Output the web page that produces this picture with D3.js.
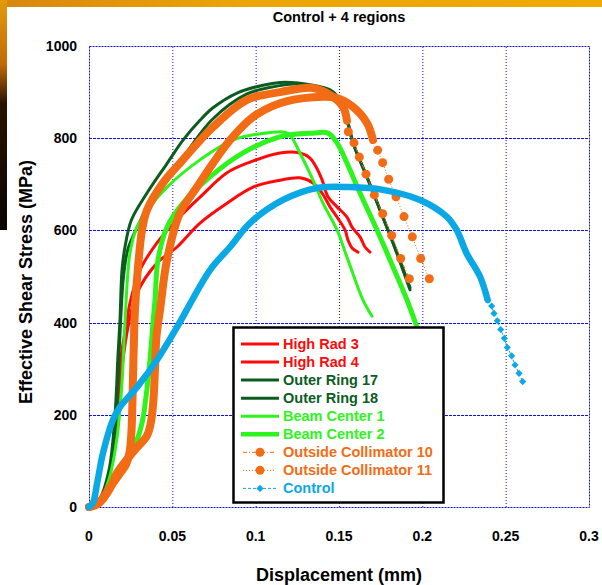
<!DOCTYPE html>
<html>
<head>
<meta charset="utf-8">
<script src="https://d3js.org/d3.v7.min.js"></script>
<style>
  body { margin: 0; background: #fff; }
  svg { display: block; font-family: "Liberation Sans", Arial, sans-serif; font-weight: bold; }
</style>
</head>
<body>
<svg></svg>
<script>

// values: [displacement (mm), stress (MPa)]
const highRad3 = [[0,0],[0.004,8],[0.009,35],[0.013,90],[0.0156,175],[0.0174,260],[0.0198,340],[0.0228,405],[0.0246,443],[0.0306,514],[0.0408,573],[0.0528,623],[0.0666,672],[0.0828,725],[0.0966,748],[0.1146,768],[0.1266,768],[0.1326,757],[0.1362,738],[0.1398,710],[0.1434,673],[0.1488,651],[0.1548,629],[0.1578,607],[0.1626,586],[0.1656,564],[0.1686,553]];
const highRad4 = [[0,0],[0.004,8],[0.009,30],[0.013,80],[0.0162,160],[0.018,240],[0.0204,320],[0.0234,390],[0.0288,464],[0.0408,529],[0.0528,564],[0.0666,616],[0.0828,659],[0.0984,694],[0.1146,709],[0.1266,714],[0.1344,703],[0.1398,681],[0.1446,651],[0.1488,629],[0.1536,601],[0.1554,579],[0.1578,562],[0.1614,553]];
const outerRing17 = [[0,0],[0.006,15],[0.012,80],[0.0156,200],[0.0174,330],[0.0186,406],[0.0198,514],[0.0216,564],[0.0255,623],[0.0348,681],[0.0468,745],[0.0564,796],[0.0666,839],[0.0744,866],[0.0888,898],[0.1044,915],[0.1146,921],[0.1254,920],[0.1344,915],[0.1446,905],[0.1506,883],[0.1548,839],[0.1584,790],[0.1668,716],[0.1746,644],[0.1824,573],[0.1926,471]];
const outerRing18 = [[0,0],[0.006,12],[0.012,70],[0.0162,200],[0.018,330],[0.0192,420],[0.0207,500],[0.0234,560],[0.03,615],[0.0408,690],[0.0546,750],[0.0738,840],[0.0948,896],[0.1146,914],[0.1254,918],[0.1344,912],[0.1446,900],[0.1512,877],[0.1554,833],[0.159,784],[0.1674,710],[0.1752,639],[0.183,568],[0.1926,476]];
const beamCenter1 = [[0,0],[0.006,12],[0.012,60],[0.0168,150],[0.0198,270],[0.0216,400],[0.0246,551],[0.0288,607],[0.0366,651],[0.0468,694],[0.0666,753],[0.0864,796],[0.1104,813],[0.1176,813],[0.1206,807],[0.1266,768],[0.1344,709],[0.1404,659],[0.1488,601],[0.1548,542],[0.1644,449],[0.1698,414]];
const beamCenter2 = [[0,0],[0.006,10],[0.012,45],[0.0162,75],[0.021,100],[0.027,130],[0.0318,182],[0.0342,239],[0.0366,319],[0.0384,400],[0.0396,449],[0.0414,536],[0.0468,607],[0.0564,659],[0.0726,716],[0.0924,768],[0.1146,803],[0.1344,811],[0.1434,811],[0.1488,790],[0.1548,746],[0.1626,681],[0.1728,601],[0.1806,536],[0.1908,449],[0.1968,390]];
const outside10 = [[0,0],[0.006,10],[0.0126,43],[0.0186,73],[0.0222,92],[0.0243,118],[0.0255,165],[0.0262,250],[0.0268,340],[0.0276,430],[0.0294,520],[0.0318,600],[0.0348,644],[0.0444,703],[0.0546,746],[0.0744,824],[0.0948,883],[0.1146,900],[0.1344,909],[0.1446,894],[0.1524,868],[0.1548,838]];
const outside10Tail = [[0.1556,814],[0.159,790],[0.1622,759],[0.1662,722],[0.1712,677],[0.1762,636],[0.1816,589],[0.187,539],[0.1922,495]];
const outside11 = [[0,0],[0.006,8],[0.0126,40],[0.0168,74],[0.0276,124],[0.0348,155],[0.0372,185],[0.0387,235],[0.0396,300],[0.0405,370],[0.0426,427],[0.0468,536],[0.0546,638],[0.0648,694],[0.0744,746],[0.0846,796],[0.0984,846],[0.1146,876],[0.1344,889],[0.1488,887],[0.1584,868],[0.1668,833],[0.1704,796]];
const outside11Tail = [[0.1732,774],[0.1762,747],[0.1798,711],[0.1842,673],[0.189,630],[0.194,586],[0.199,539],[0.2042,495]];
const control = [[0,0],[0.0024,9],[0.0048,50],[0.0084,117],[0.0144,189],[0.0186,217],[0.0288,260],[0.0408,319],[0.0528,390],[0.0726,514],[0.0846,564],[0.0966,616],[0.1164,666],[0.1368,692],[0.1566,694],[0.1764,688],[0.1986,666],[0.2146,630],[0.2206,601],[0.2266,550],[0.2346,500],[0.2392,449]];
const controlTail = [[0.2392,449],[0.2416,436],[0.243,420],[0.245,404],[0.247,385],[0.2492,366],[0.251,346],[0.2536,328],[0.2556,308],[0.258,290],[0.2602,272]];

const seriesNames = ["High Rad 3", "High Rad 4", "Outer Ring 17", "Outer Ring 18", "Beam Center 1", "Beam Center 2", "Outside Collimator 10", "Outside Collimator 11", "Control"];
const xTicks = [0, 0.05, 0.1, 0.15, 0.2, 0.25, 0.3];
const yTicks = [0, 200, 400, 600, 800, 1000];

let width = 602, height = 585;
let svg = d3.select("svg").attr("width", width).attr("height", height);

const red = "#ff0a0a", dkGreen = "#0c5c1f", ltGreen = "#2ef41e", orange = "#f26c15", blue = "#0ba8e6";

// styles of each series, in drawing order
let series = [
  {name: seriesNames[0], data: highRad3, color: red, w: 3},
  {name: seriesNames[1], data: highRad4, color: red, w: 3},
  {name: seriesNames[2], data: outerRing17, color: dkGreen, w: 3},
  {name: seriesNames[3], data: outerRing18, color: dkGreen, w: 3},
  {name: seriesNames[4], data: beamCenter1, color: ltGreen, w: 3},
  {name: seriesNames[5], data: beamCenter2, color: ltGreen, w: 5},
  {name: seriesNames[6], data: outside10, tail: outside10Tail, color: orange, w: 8, marker: "circle", dash: "4,2,1,2"},
  {name: seriesNames[7], data: outside11, tail: outside11Tail, color: orange, w: 8, marker: "circle", dash: "1,2"},
  {name: seriesNames[8], data: control, tail: controlTail, color: blue, w: 6.5, marker: "diamond", dash: "3,2"}
];

// slide background strips
let defs = svg.append("defs");
let tg = defs.append("linearGradient").attr("id", "topg");
tg.append("stop").attr("offset", "0%").attr("stop-color", "#d8860f");
tg.append("stop").attr("offset", "40%").attr("stop-color", "#eba507");
tg.append("stop").attr("offset", "100%").attr("stop-color", "#f0aa05");
let lg = defs.append("linearGradient").attr("id", "leftg").attr("x1", 0).attr("x2", 0).attr("y1", 0).attr("y2", 1);
lg.append("stop").attr("offset", "0%").attr("stop-color", "#e39a0c");
lg.append("stop").attr("offset", "28%").attr("stop-color", "#c06a08");
lg.append("stop").attr("offset", "45%").attr("stop-color", "#2a1200");
lg.append("stop").attr("offset", "100%").attr("stop-color", "#0a0400");
svg.append("rect").attr("x", 0).attr("y", 0).attr("width", width).attr("height", 7).attr("fill", "url(#topg)");
svg.append("rect").attr("x", 0).attr("y", 0).attr("width", 7).attr("height", 230).attr("fill", "url(#leftg)");

let x = d3.scaleLinear().domain([0, 0.3]).range([89, 589]);
let y = d3.scaleLinear().domain([0, 1000]).range([507, 46]);

// grid
let grid = svg.append("g").attr("stroke", "#1010e0").attr("stroke-width", 1);
grid.selectAll(".vx").data(xTicks.slice(1, -1)).join("line")
  .attr("x1", d => x(d) + 0.5).attr("x2", d => x(d) + 0.5)
  .attr("y1", y(0)).attr("y2", y(1000))
  .attr("stroke-dasharray", "1,2");
grid.selectAll(".hy").data(yTicks.slice(1, -1)).join("line")
  .attr("x1", x(0)).attr("x2", x(0.3))
  .attr("y1", d => Math.round(y(d)) + 0.5).attr("y2", d => Math.round(y(d)) + 0.5)
  .attr("stroke-dasharray", "3,1");
svg.append("rect")
  .attr("x", x(0) + 0.5).attr("y", y(1000) + 0.5)
  .attr("width", x(0.3) - x(0)).attr("height", y(0) - y(1000))
  .attr("fill", "none").attr("stroke", "#1010e0").attr("stroke-dasharray", "2,1");

// tick labels
svg.append("g").selectAll("text").data(xTicks).join("text")
  .attr("x", d => x(d)).attr("y", 541)
  .attr("text-anchor", "middle").style("font-size", "14px")
  .text(d => d);
svg.append("g").selectAll("text").data(yTicks).join("text")
  .attr("x", 77).attr("y", d => y(d) + 5)
  .attr("text-anchor", "end").style("font-size", "14px")
  .text(d => d);

// titles
svg.append("text").attr("x", 339).attr("y", 22).attr("text-anchor", "middle")
  .style("font-size", "14.5px").text("Control + 4 regions");
svg.append("text").attr("x", 339).attr("y", 581).attr("text-anchor", "middle")
  .style("font-size", "18px").text("Displacement (mm)");
svg.append("text").attr("transform", "translate(32,282) rotate(-90)").attr("text-anchor", "middle")
  .style("font-size", "18px").text("Effective Shear Stress (MPa)");

// lines
let line = d3.line().x(d => x(d[0])).y(d => y(d[1])).curve(d3.curveCatmullRom.alpha(0.5));
let thin = d3.line().x(d => x(d[0])).y(d => y(d[1]));

function marker(g, type, color, cx, cy) {
  if (type == "circle") {
    g.append("circle").attr("cx", cx).attr("cy", cy).attr("r", 4.5).attr("fill", color);
  } else {
    g.append("path").attr("d", d3.symbol(d3.symbolSquare, 26)())
      .attr("transform", "translate(" + cx + "," + cy + ") rotate(45)").attr("fill", color);
  }
}

series.forEach(s => {
  let g = svg.append("g");
  g.append("path").attr("d", line(s.data))
    .attr("fill", "none").attr("stroke", s.color).attr("stroke-width", s.w)
    .attr("stroke-linecap", "round").attr("stroke-linejoin", "round");
  if (s.tail) {
    g.append("path").attr("d", thin(s.tail))
      .attr("fill", "none").attr("stroke", s.color).attr("stroke-width", 1)
      .attr("stroke-dasharray", s.dash);
    s.tail.forEach(p => marker(g, s.marker, s.color, x(p[0]), y(p[1])));
  }
});

// legend
let leg = svg.append("g");
leg.append("rect").attr("x", 233.5).attr("y", 327.5).attr("width", 210).attr("height", 175)
  .attr("fill", "#fff").attr("stroke", "#000").attr("stroke-width", 2.5);
series.forEach((s, i) => {
  let cy = 344 + i * 18.05;
  if (s.marker) {
    leg.append("line").attr("x1", 243).attr("x2", 276).attr("y1", cy).attr("y2", cy)
      .attr("stroke", s.color).attr("stroke-width", 1).attr("stroke-dasharray", s.dash);
    marker(leg, s.marker, s.color, 260, cy);
  } else {
    leg.append("line").attr("x1", 241).attr("x2", 279).attr("y1", cy).attr("y2", cy)
      .attr("stroke", s.color).attr("stroke-width", s.w == 5 ? 4.5 : 3);
  }
  leg.append("text").attr("x", 283).attr("y", cy + 5)
    .attr("fill", s.color).style("font-size", "14.5px").text(s.name);
});

</script>
</body>
</html>
